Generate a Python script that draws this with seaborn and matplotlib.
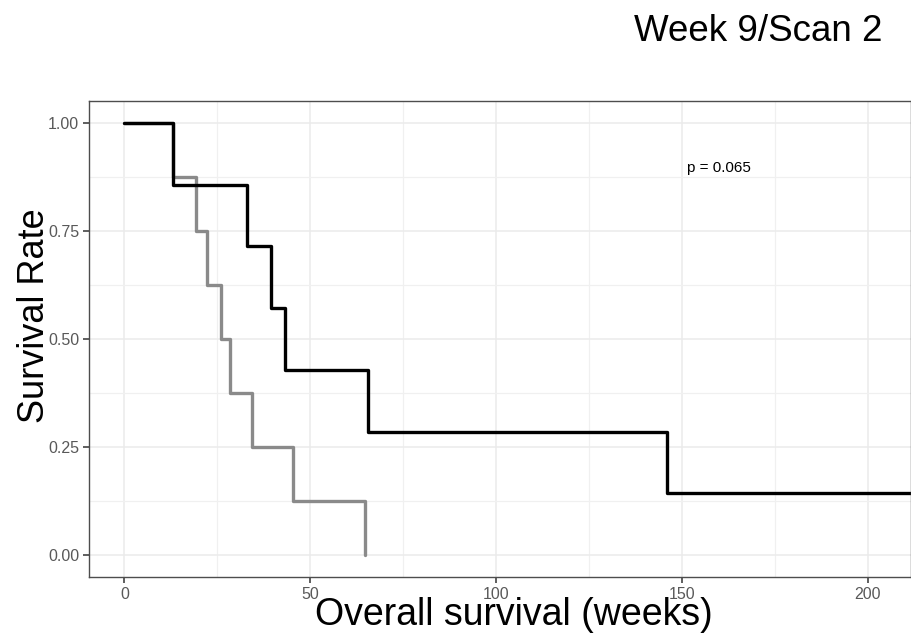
import seaborn as sns
import matplotlib.pyplot as plt
import pandas as pd
from matplotlib.ticker import MultipleLocator

# Kaplan-Meier step points (weeks, survival)
high_time = [0, 13, 33, 39.5, 43.3, 65.5, 146, 212]
high_surv = [1.0, 0.857, 0.714, 0.571, 0.429, 0.286, 0.143, 0.143]
low_time = [0, 13, 19.3, 22.3, 26.1, 28.3, 34.3, 45.5, 64.7]
low_surv = [1.0, 0.875, 0.75, 0.625, 0.5, 0.375, 0.25, 0.125, 0.0]

x_ticks = [0, 50, 100, 150, 200]
y_ticks = [0.0, 0.25, 0.5, 0.75, 1.0]
y_labels = ["0.00", "0.25", "0.50", "0.75", "1.00"]

df = pd.concat([
    pd.DataFrame({"time": low_time, "surv": low_surv, "group": "low"}),
    pd.DataFrame({"time": high_time, "surv": high_surv, "group": "high"}),
])

sns.set_style("white", {"text.color": "black", "axes.labelcolor": "black"})
plt.rcParams["font.family"] = ["Liberation Sans", "DejaVu Sans"]

fig = plt.figure(figsize=(9.11, 6.36), dpi=100)
ax = fig.add_axes([0.0977, 0.0928, 0.9023, 0.7484])

sns.lineplot(data=df, x="time", y="surv", hue="group",
             palette={"low": "#8a8a8a", "high": "black"},
             hue_order=["low", "high"], drawstyle="steps-post",
             linewidth=2.4, legend=False, ax=ax, estimator=None, sort=False)

ax.set_xlim(-9.5, 211.6)
ax.set_ylim(-0.05, 1.05)
ax.set_xticks(x_ticks)
ax.set_yticks(y_ticks)
ax.set_yticklabels(y_labels)
ax.xaxis.set_minor_locator(MultipleLocator(25))
ax.yaxis.set_minor_locator(MultipleLocator(0.125))
ax.grid(True, which="major", color="#ebebeb", linewidth=1.1)
ax.grid(True, which="minor", color="#f0f0f0", linewidth=0.9)
ax.set_axisbelow(True)
for s in ax.spines.values():
    s.set_color("#4d4d4d")
    s.set_linewidth(1.0)
ax.tick_params(axis="both", which="major", length=4, width=1.1, color="#333333",
               labelcolor="#595959", labelsize=11.5, pad=3, bottom=True, left=True)
ax.tick_params(which="minor", length=0)

ax.set_xlabel("Overall survival (weeks)", fontsize=27, color="black")
ax.set_ylabel("Survival Rate", fontsize=26, color="black")
ax.xaxis.set_label_coords(0.517, -0.042)
ax.yaxis.set_label_coords(-0.045, 0.548)

ax.text(151.3, 0.896, "p = 0.065", fontsize=11, ha="left", va="center", color="black")
fig.text(0.969, 0.951, "Week 9/Scan 2", fontsize=26.5, ha="right", va="center", color="black")

fig.savefig("out.png", dpi=100)
